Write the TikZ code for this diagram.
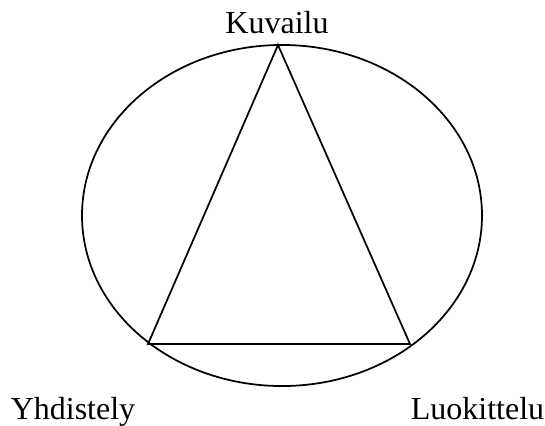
\documentclass[tikz,border=0pt]{standalone}
\usepackage{fontspec}
\setmainfont{Liberation Serif}

\begin{document}
\begin{tikzpicture}[x=0.75pt,y=-0.75pt,
        label/.style={anchor=base,inner sep=0pt,font=\fontsize{24}{28}\selectfont}]
        \useasboundingbox (0,0) rectangle (545,425);
        \draw[line width=1.3pt] (282,215.5) ellipse (150pt and 127.9pt);
        \coordinate (top) at (278,45);
        \coordinate (left) at (148,344);
        \coordinate (right) at (410,344);
        \draw
            (277,33) node[label] (kuvailu){Kuvailu}
            (73,419) node[label] (yhdistely){Yhdistely}
            (477.5,419) node[label] (luokittelu){Luokittelu};
        \draw[line width=1.3pt,line join=miter] (top) -- (left) -- (right) -- cycle;
\end{tikzpicture}
\end{document}
